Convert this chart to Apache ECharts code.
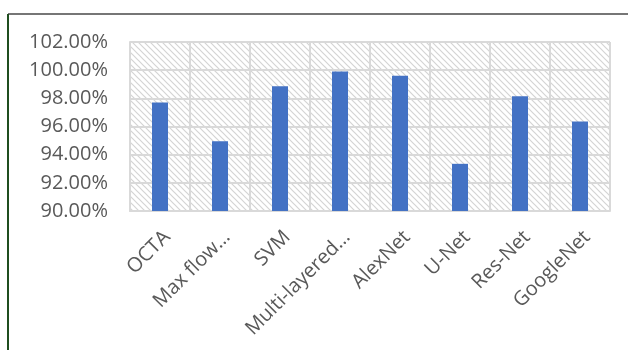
<!DOCTYPE html>
<html>
<head>
<meta charset="utf-8">
<script src="https://cdn.jsdelivr.net/npm/echarts@6/dist/echarts.min.js"></script>
<style>
  html, body { margin: 0; padding: 0; background: #fff; }
  #chart { width: 628px; height: 350px; }
</style>
</head>
<body>
<div id="chart"></div>
<script>
// Accuracy (%) by method
const categories = ['OCTA', 'Max flow…', 'SVM', 'Multi-layered…', 'AlexNet', 'U-Net', 'Res-Net', 'GoogleNet'];
const accuracy = [97.7, 94.95, 98.85, 99.9, 99.6, 93.35, 98.15, 96.35];
const yMin = 90, yMax = 102, yStep = 2;

// Light diagonal hatch tile for the plot background
function hatchTile() {
  const c = document.createElement('canvas');
  c.width = 6; c.height = 6;
  const g = c.getContext('2d');
  g.fillStyle = '#ffffff';
  g.fillRect(0, 0, 6, 6);
  g.strokeStyle = '#d4d4d4';
  g.lineWidth = 1.2;
  g.beginPath();
  g.moveTo(-1, -1); g.lineTo(7, 7);
  g.moveTo(-1, 5); g.lineTo(1, 7);
  g.moveTo(5, -1); g.lineTo(7, 1);
  g.stroke();
  return c;
}

const chart = echarts.init(document.getElementById('chart'));
const font = '"Open Sans", "Liberation Sans", sans-serif';
chart.setOption({
  animation: false,
  grid: {
    left: 130, right: 18, top: 42, bottom: 139,
    show: true,
    borderWidth: 0,
    backgroundColor: { image: hatchTile(), repeat: 'repeat' }
  },
  xAxis: {
    type: 'category',
    data: categories,
    boundaryGap: true,
    axisLine: { show: true, lineStyle: { color: '#d9d9d9', width: 2 } },
    axisTick: { show: false },
    splitLine: { show: true, lineStyle: { color: '#d9d9d9', width: 2 } },
    axisLabel: {
      rotate: 45,
      interval: 0,
      margin: 16,
      verticalAlign: 'top',
      color: '#595959',
      fontFamily: font,
      fontSize: 20
    }
  },
  yAxis: {
    type: 'value',
    min: yMin, max: yMax, interval: yStep,
    axisLine: { show: true, lineStyle: { color: '#d9d9d9', width: 2 } },
    axisTick: { show: false },
    splitLine: { show: true, lineStyle: { color: '#d9d9d9', width: 2 } },
    axisLabel: {
      margin: 22,
      color: '#595959',
      fontFamily: font,
      fontSize: 20,
      formatter: v => v.toFixed(2) + '%'
    }
  },
  series: [{
    type: 'bar',
    data: accuracy,
    barWidth: 16,
    itemStyle: { color: '#4472c4' }
  }],
  graphic: [
    { type: 'line', shape: { x1: 8, y1: 14, x2: 628, y2: 14 }, style: { stroke: '#767676', lineWidth: 2 } },
    { type: 'line', shape: { x1: 8, y1: 14, x2: 8, y2: 350 }, style: { stroke: '#1f4e1f', lineWidth: 2 } }
  ]
});
</script>
</body>
</html>
